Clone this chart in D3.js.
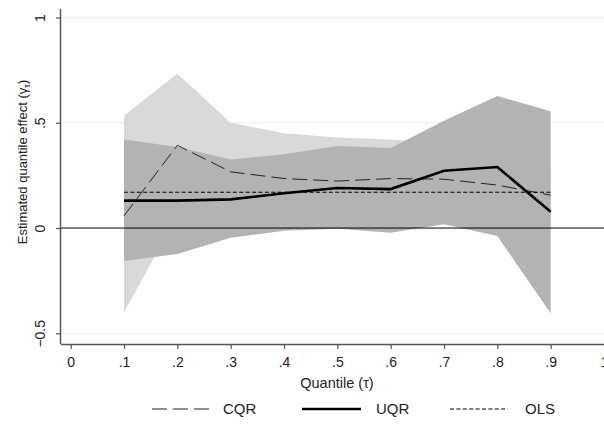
<!DOCTYPE html>
<html>
<head>
<meta charset="utf-8">
<script src="https://cdn.jsdelivr.net/npm/d3@7"></script>
<style>
  body { margin: 0; background: #fff; }
  text { font-family: "Liberation Sans", Arial, sans-serif; fill: #222; }
</style>
</head>
<body>
<div id="chart"></div>
<script>
// quantiles and estimates
const quantiles = [0.1, 0.2, 0.3, 0.4, 0.5, 0.6, 0.7, 0.8, 0.9];
const cqr      = [0.058, 0.393, 0.267, 0.235, 0.223, 0.235, 0.232, 0.204, 0.156];
const cqrLo    = [-0.40, 0.06, 0.04, 0.01, 0.01, 0.06, 0.06, 0.04, 0.02];
const cqrHi    = [0.535, 0.733, 0.50, 0.45, 0.43, 0.42, 0.40, 0.38, 0.30];
const uqr      = [0.13, 0.13, 0.136, 0.165, 0.19, 0.185, 0.272, 0.29, 0.077];
const uqrLo    = [-0.156, -0.123, -0.046, -0.013, -0.003, -0.022, 0.018, -0.038, -0.405];
const uqrHi    = [0.42, 0.385, 0.325, 0.35, 0.39, 0.38, 0.51, 0.627, 0.555];
const ols      = [0.17, 0.17, 0.17, 0.17, 0.17, 0.17, 0.17, 0.17, 0.17];
const xTicks = [0, 0.1, 0.2, 0.3, 0.4, 0.5, 0.6, 0.7, 0.8, 0.9, 1];
const yTicks = [-0.5, 0, 0.5, 1];

const W = 604, H = 425;
const fmt = v => v === 0 ? '0' : v === 1 ? '1' : d3.format('.1f')(v).replace(/^(-?)0\./, '$1.');

const svg = d3.select('#chart').append('svg')
    .attr('width', W).attr('height', H);

const x = d3.scaleLinear().domain([0, 1]).range([70.7, 604]);
const y = d3.scaleLinear().domain([-0.5, 1]).range([333.3, 17.5]);

const axL = 61, axB = 344, axT = 9;

// gridlines
svg.selectAll('.grid').data(yTicks.filter(d => d !== 0)).enter().append('line')
    .attr('class', 'grid')
    .attr('x1', axL).attr('x2', W)
    .attr('y1', d => y(d)).attr('y2', d => y(d))
    .style('stroke', '#e6eff0').style('stroke-width', 1);

const rows = quantiles.map((q, i) => ({q, cqr: cqr[i], cqrLo: cqrLo[i], cqrHi: cqrHi[i],
    uqr: uqr[i], uqrLo: uqrLo[i], uqrHi: uqrHi[i], ols: ols[i]}));

// confidence bands
svg.append('path').datum(rows)
    .attr('d', d3.area().x(d => x(d.q)).y0(d => y(d.cqrLo)).y1(d => y(d.cqrHi)))
    .style('fill', '#d9d9d9');
svg.append('path').datum(rows)
    .attr('d', d3.area().x(d => x(d.q)).y0(d => y(d.uqrLo)).y1(d => y(d.uqrHi)))
    .style('fill', '#b3b3b3');

// zero line
svg.append('line')
    .attr('x1', axL).attr('x2', W)
    .attr('y1', y(0)).attr('y2', y(0))
    .style('stroke', '#000').style('stroke-width', 1);

const styles = {
    cqr: {w: 1, dash: '15,6', c: '#222'},
    uqr: {w: 2.6, dash: null, c: '#000'},
    ols: {w: 1, dash: '4,2.4', c: '#000'}
};

['cqr', 'ols', 'uqr'].forEach(k => {
    svg.append('path').datum(rows)
        .attr('d', d3.line().x(d => x(d.q)).y(d => y(d[k])))
        .style('fill', 'none')
        .style('stroke', styles[k].c)
        .style('stroke-width', styles[k].w)
        .style('stroke-dasharray', styles[k].dash);
});

// axes
const xAxis = svg.append('g').attr('transform', `translate(0,${axB})`)
    .call(d3.axisBottom(x).tickValues(xTicks).tickFormat(fmt).tickSize(5).tickSizeOuter(0));
xAxis.select('.domain').attr('d', `M${axL},0.5H${W}`);
const yAxis = svg.append('g').attr('transform', `translate(${axL},0)`)
    .call(d3.axisLeft(y).tickValues(yTicks).tickFormat(fmt).tickSize(5).tickSizeOuter(0));
yAxis.select('.domain').attr('d', `M-0.5,${axT}V${axB}`);

svg.selectAll('.domain').style('stroke', '#555').style('stroke-width', 1.5);
svg.selectAll('.tick line').style('stroke', '#555').style('stroke-width', 1.2);
svg.selectAll('.tick text').style('font-size', '14px').style('fill', '#222')
    .style('font-family', '"Liberation Sans", Arial, sans-serif');
xAxis.selectAll('.tick text').attr('y', 13);
yAxis.selectAll('.tick text')
    .attr('x', null).attr('dy', null)
    .attr('transform', 'translate(-21,0) rotate(-90)')
    .attr('text-anchor', 'middle')
    .attr('dy', '0.35em');

// axis titles
svg.append('text')
    .attr('x', 337).attr('y', 388)
    .attr('text-anchor', 'middle')
    .style('font-size', '14.5px')
    .text('Quantile (τ)');

const yt = svg.append('text')
    .attr('transform', 'translate(27,162) rotate(-90)')
    .attr('text-anchor', 'middle')
    .style('font-size', '13px');
yt.append('tspan').text('Estimated quantile effect (γ');
yt.append('tspan').attr('dy', 3).style('font-size', '9px').text('τ');
yt.append('tspan').attr('dy', -3).text(')');

// legend
const legend = [
    {key: 'cqr', label: 'CQR', x0: 152, x1: 211, tx: 223},
    {key: 'uqr', label: 'UQR', x0: 302, x1: 361, tx: 376},
    {key: 'ols', label: 'OLS', x0: 450, x1: 508, tx: 525}
];
const lg = svg.selectAll('.leg').data(legend).enter().append('g').attr('class', 'leg');
lg.append('line')
    .attr('x1', d => d.x0).attr('x2', d => d.x1)
    .attr('y1', 409).attr('y2', 409)
    .style('stroke', d => styles[d.key].c)
    .style('stroke-width', d => styles[d.key].w)
    .style('stroke-dasharray', d => styles[d.key].dash);
lg.append('text')
    .attr('x', d => d.tx).attr('y', 409).attr('dy', '0.35em')
    .style('font-size', '15px')
    .text(d => d.label);
</script>
</body>
</html>
